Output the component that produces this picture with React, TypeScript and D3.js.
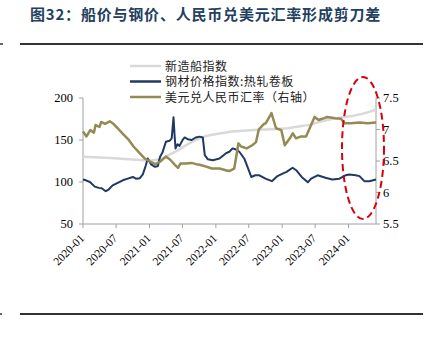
import React from 'react';
import * as d3 from 'd3';

// ---- Data ----
const shipDates = ['2020-01-01','2020-06-01','2020-12-01','2021-01-15','2021-03-01','2021-04-15','2021-06-01','2021-07-15','2021-09-01','2021-10-15','2021-12-01','2022-02-01','2022-04-01','2022-06-01','2022-08-01','2022-10-01','2022-12-01','2023-02-01','2023-04-01','2023-06-01','2023-08-01','2023-10-01','2023-12-01','2024-02-01','2024-04-01','2024-05-31'];
const shipValues = [130,128.5,126,125.5,127,132,137,143,149,153,156,158,160,161,162,162.5,163,164,166,168,172,175,177,179,182,186];

const steelDates = ['2020-01-01','2020-01-17','2020-02-08','2020-03-06','2020-03-28','2020-04-13','2020-05-05','2020-05-21','2020-06-12','2020-07-10','2020-08-07','2020-09-03','2020-10-01','2020-10-18','2020-11-09','2020-11-25','2020-12-12','2020-12-22','2021-01-09','2021-02-01','2021-02-16','2021-02-28','2021-03-13','2021-04-01','2021-04-21','2021-05-03','2021-05-13','2021-05-19','2021-05-24','2021-06-04','2021-06-15','2021-07-02','2021-07-13','2021-07-30','2021-08-21','2021-09-12','2021-10-04','2021-10-21','2021-11-01','2021-11-18','2021-12-15','2022-01-21','2022-02-24','2022-03-16','2022-04-03','2022-04-18','2022-05-10','2022-06-06','2022-06-24','2022-07-15','2022-08-06','2022-08-28','2022-10-01','2022-11-05','2022-12-06','2023-01-03','2023-01-25','2023-02-27','2023-03-19','2023-04-18','2023-05-22','2023-06-09','2023-07-15','2023-08-27','2023-10-03','2023-11-12','2023-12-15','2024-01-06','2024-02-09','2024-03-01','2024-03-28','2024-04-24','2024-05-31'];
const steelValues = [103,102,100,94.5,93,92.5,89,91,96,99,102,104,106,104,104.6,109,120,128,121,118,119,130,135,148,149,152,177,155,140,145,143,150,153,151,150,153,154,153,132,127,126,128,134,136,140,139,136,128,118,106,108,108,104,101,107,110,112,117,114,106,99.6,104,108,105,103,104,108,109,108,107,101,101,103];

const fxDates = ['2020-01-01','2020-01-20','2020-02-10','2020-03-01','2020-03-10','2020-04-01','2020-04-10','2020-05-01','2020-05-27','2020-06-12','2020-07-10','2020-08-05','2020-09-10','2020-10-05','2020-11-09','2020-12-05','2021-01-05','2021-02-01','2021-03-01','2021-04-01','2021-04-25','2021-05-20','2021-06-07','2021-06-20','2021-07-21','2021-08-20','2021-09-15','2021-10-03','2021-11-09','2021-12-10','2022-01-21','2022-03-01','2022-03-15','2022-04-12','2022-04-25','2022-05-05','2022-05-20','2022-06-20','2022-07-20','2022-08-10','2022-08-25','2022-09-20','2022-10-03','2022-11-03','2022-11-28','2022-12-27','2023-01-15','2023-02-12','2023-02-28','2023-03-18','2023-04-15','2023-05-12','2023-06-01','2023-06-28','2023-07-20','2023-08-20','2023-09-05','2023-10-20','2023-11-20','2023-12-10','2024-01-15','2024-03-01','2024-04-15','2024-05-31'];
const fxValues = [6.97,6.89,6.99,6.95,7.07,7.04,7.12,7.09,7.13,7.10,7.02,6.94,6.83,6.73,6.62,6.54,6.49,6.45,6.49,6.57,6.52,6.44,6.39,6.46,6.46,6.47,6.45,6.44,6.41,6.38,6.38,6.35,6.34,6.38,6.60,6.78,6.73,6.70,6.75,6.80,7.00,7.08,7.10,7.26,7.02,6.99,6.75,6.86,6.94,6.86,6.89,6.89,7.02,7.20,7.15,7.18,7.20,7.18,7.17,7.10,7.10,7.11,7.10,7.11];

const leftTicks = [50, 100, 150, 200];
const rightTicks = [5.5, 6, 6.5, 7, 7.5];
const xTickLabels = ['2020-01','2020-07','2021-01','2021-07','2022-01','2022-07','2023-01','2023-07','2024-01'];
const legendLabels = ['新造船指数', '钢材价格指数:热轧卷板', '美元兑人民币汇率（右轴）'];
const title = '图32：船价与钢价、人民币兑美元汇率形成剪刀差';

const parse = d3.timeParse('%Y-%m-%d');
const parseM = d3.timeParse('%Y-%m');

export default function App() {
  const W = 431, H = 351;
  const x = d3.scaleTime().domain([parse('2020-01-01')!, parse('2024-05-31')!]).range([83, 376]);
  const yL = d3.scaleLinear().domain([50, 200]).range([224, 98]);
  const yR = d3.scaleLinear().domain([5.5, 7.5]).range([224, 98]);

  const mk = (dates: string[], vals: number[], y: d3.ScaleLinear<number, number>) =>
    d3.line<number>().x((_, i) => x(parse(dates[i])!)).y((v) => y(v)).curve(d3.curveLinear)(vals) || '';

  const shipPath = mk(shipDates, shipValues, yL);
  const steelPath = mk(steelDates, steelValues, yL);
  const fxPath = mk(fxDates, fxValues, yR);

  const serif = '"Liberation Serif", "Times New Roman", serif';
  const cjk = '"Noto Sans CJK SC", sans-serif';
  const axisColor = '#a0a0a0';
  const colors = ['#d9d9d9', '#1f3864', '#948a54'];

  return (
    <svg width={W} height={H} style={{ position: 'fixed', left: 0, top: 0, background: '#fff' }}>
      <rect width={W} height={H} fill="#fff" />
      <text x={30} y={20} fontFamily={cjk} fontWeight={700} fontSize={15} fill="#243f60" letterSpacing={0.8}>{title}</text>
      <line x1={0} x2={3} y1={44} y2={44} stroke="#333" strokeWidth={1.5} />
      <line x1={20} x2={423} y1={44} y2={44} stroke="#333" strokeWidth={2} />
      <line x1={0} x2={2} y1={314} y2={314} stroke="#333" strokeWidth={1.5} />
      <line x1={20} x2={423} y1={314} y2={314} stroke="#333" strokeWidth={2} />

      {/* axes */}
      <line x1={83} x2={83} y1={98} y2={224} stroke={axisColor} strokeWidth={1} />
      <line x1={376} x2={376} y1={98} y2={224} stroke={axisColor} strokeWidth={1} />
      <line x1={83} x2={376} y1={224} y2={224} stroke={axisColor} strokeWidth={1} />
      {leftTicks.map((t) => (
        <g key={'l' + t}>
          <line x1={79} x2={83} y1={yL(t)} y2={yL(t)} stroke={axisColor} />
          <text x={73} y={yL(t) + 4} textAnchor="end" fontFamily={serif} fontSize={12.5} fill="#000">{t}</text>
        </g>
      ))}
      {rightTicks.map((t) => (
        <g key={'r' + t}>
          <line x1={376} x2={380} y1={yR(t)} y2={yR(t)} stroke={axisColor} />
          <text x={383} y={yR(t) + 4} textAnchor="start" fontFamily={serif} fontSize={12.5} fill="#000">{String(t)}</text>
        </g>
      ))}
      {xTickLabels.map((t) => {
        const px = x(parseM(t)!);
        return (
          <g key={'x' + t}>
            <line x1={px} x2={px} y1={224} y2={228} stroke={axisColor} />
            <text transform={`translate(${px + 2},${239}) rotate(-45)`} textAnchor="end" fontFamily={serif} fontSize={11.5} fill="#000">{t}</text>
          </g>
        );
      })}

      {/* series */}
      <path d={shipPath} fill="none" stroke={colors[0]} strokeWidth={2.5} strokeLinejoin="round" />
      <path d={steelPath} fill="none" stroke={colors[1]} strokeWidth={2} strokeLinejoin="round" />
      <path d={fxPath} fill="none" stroke={colors[2]} strokeWidth={2.5} strokeLinejoin="round" />

      {/* legend */}
      {legendLabels.map((l, i) => (
        <g key={'lg' + i}>
          <line x1={130} x2={161} y1={66 + i * 15.5} y2={66 + i * 15.5} stroke={colors[i]} strokeWidth={2.5} />
          <text x={165} y={66 + i * 15.5 + 4.5} fontFamily={cjk} fontSize={12} letterSpacing={0.5} fill="#222">{l}</text>
        </g>
      ))}

      {/* highlight ellipse */}
      <ellipse cx={363} cy={148} rx={21} ry={71} fill="none" stroke="#d9000d" strokeWidth={2} strokeDasharray="7,4" />
    </svg>
  );
}
